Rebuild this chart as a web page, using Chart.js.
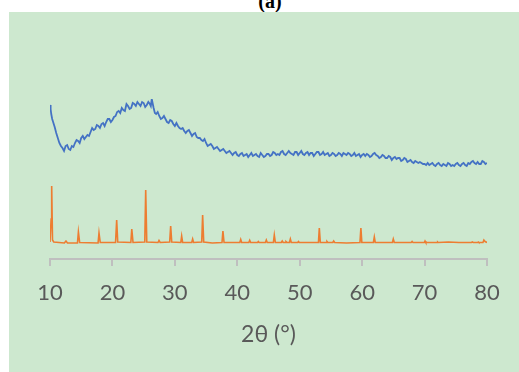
<!DOCTYPE html>
<html lang="en">

<head>
    <meta charset="UTF-8">
    <title>XRD (a)</title>
    <style>
        body { margin: 0; background: #ffffff; width: 519px; height: 372px; overflow: hidden; position: relative; }
        #label { position: absolute; left: 0; width: 540px; top: -9px; text-align: center;
                 font: bold 20px "Liberation Serif", serif; line-height: 20px; color: #000; }
        #box { position: absolute; left: 9px; top: 12px; width: 510px; height: 360px; background: #cde8cf; }
    </style>
</head>

<body>
    <div id="label">(a)</div>
    <div id="box">
        <canvas id="myChart" width="510" height="360"></canvas>
    </div>

    <script src="https://cdn.jsdelivr.net/npm/chart.js/dist/chart.umd.min.js"></script>
    <script>
        // amorphous sample (blue)
        const amorphousAngle = [
            10.0, 10.1, 10.2, 10.35, 10.5, 10.75, 11.0, 11.25, 11.5, 11.75,
            12.0, 12.25, 12.5, 12.75,  13.0, 13.25, 13.5, 13.75,  14.0, 14.25, 14.5, 14.75,
            15.0, 15.25, 15.5, 15.75,  16.0, 16.25, 16.5, 16.75,  17.0, 17.25, 17.5, 17.75,
            18.0, 18.25, 18.5, 18.75,  19.0, 19.25, 19.5, 19.75,  20.0, 20.25, 20.5, 20.75,
            21.0, 21.25, 21.5, 21.75,  22.0, 22.25, 22.5, 22.75,  23.0, 23.25, 23.5, 23.75,
            24.0, 24.25, 24.5, 24.75,  25.0, 25.25, 25.5, 25.75,  26.0, 26.15, 26.3, 26.6, 26.8,
            27.0, 27.25, 27.5, 27.75,  28.0, 28.25, 28.5, 28.75,  29.0, 29.25, 29.5, 29.75,
            30.0, 30.25, 30.5, 30.75,  31.0, 31.25, 31.5, 31.75,  32.0, 32.25, 32.5, 32.75,
            33.0, 33.25, 33.5, 33.75,  34.0, 34.25, 34.5, 34.75,  35.0, 35.25, 35.5, 35.75,
            36.0, 36.25, 36.5, 36.75,  37.0, 37.25, 37.5, 37.75,  38.0, 38.25, 38.5, 38.75,
            39.0, 39.25, 39.5, 39.75,  40.0, 40.25, 40.5, 40.75,  41.0, 41.25, 41.5, 41.75,
            42.0, 42.25, 42.5, 42.75,  43.0, 43.25, 43.5, 43.75,  44.0, 44.25, 44.5, 44.75,
            45.0, 45.25, 45.5, 45.75,  46.0, 46.25, 46.5, 46.75,  47.0, 47.25, 47.5, 47.75,
            48.0, 48.25, 48.5, 48.75,  49.0, 49.25, 49.5, 49.75,  50.0, 50.25, 50.5, 50.75,
            51.0, 51.25, 51.5, 51.75,  52.0, 52.25, 52.5, 52.75,  53.0, 53.25, 53.5, 53.75,
            54.0, 54.25, 54.5, 54.75,  55.0, 55.25, 55.5, 55.75,  56.0, 56.25, 56.5, 56.75,
            57.0, 57.25, 57.5, 57.75,  58.0, 58.25, 58.5, 58.75,  59.0, 59.25, 59.5, 59.75,
            60.0, 60.25, 60.5, 60.75,  61.0, 61.25, 61.5, 61.75,  62.0, 62.25, 62.5, 62.75,
            63.0, 63.25, 63.5, 63.75,  64.0, 64.25, 64.5, 64.75,  65.0, 65.25, 65.5, 65.75,
            66.0, 66.25, 66.5, 66.75,  67.0, 67.25, 67.5, 67.75,  68.0, 68.25, 68.5, 68.75,
            69.0, 69.25, 69.5, 69.75,  70.0, 70.25, 70.5, 70.75,  71.0, 71.25, 71.5, 71.75,
            72.0, 72.25, 72.5, 72.75,  73.0, 73.25, 73.5, 73.75,  74.0, 74.25, 74.5, 74.75,
            75.0, 75.25, 75.5, 75.75,  76.0, 76.25, 76.5, 76.75,  77.0, 77.25, 77.5, 77.75,
            78.0, 78.25, 78.5, 78.75,  79.0, 79.25, 79.5, 79.75,  80.0];
        const amorphousIntensity = [
            154, 150, 145, 140, 137, 132, 126, 121, 116, 113,
            111, 108, 113, 114,  110, 109, 113, 112,  116, 119, 118, 116,
            121, 123, 120, 122,  124, 123, 127, 131,  129, 130, 134, 133,
            131, 135, 136, 133,  137, 140, 140, 137,  139, 142, 143, 147,
            148, 146, 151, 149,  148, 155, 153, 150,  151, 156, 155, 153,
            157, 155, 153, 157,  156, 152, 154, 157,  155, 153, 160, 151, 146,
            145, 147, 143, 140,  141, 143, 140, 137,  136, 139, 138, 135,
            133, 136, 133, 131,  130, 131, 128, 126,  128, 129, 126, 123,
            125, 126, 122, 121,  121, 119, 118, 120,  116, 113, 114, 115,
            113, 110, 111, 112,  110, 108, 109, 110,  108, 106, 107, 108,
            106, 104, 106, 107,  104, 103, 105, 106,  103, 104, 105, 102,
            104, 106, 103, 104,  105, 103, 102, 106,  104, 102, 103, 105,
            105, 103, 104, 107,  106, 104, 105, 104,  107, 108, 105, 104,
            106, 108, 106, 105,  104, 107, 107, 104,  106, 108, 105, 104,
            106, 107, 104, 106,  106, 103, 105, 107,  107, 104, 105, 107,
            104, 105, 106, 103,  104, 106, 105, 103,  104, 106, 105, 103,
            106, 105, 104, 106,  105, 103, 104, 106,  103, 104, 105, 102,
            104, 105, 103, 105,  104, 102, 103, 105,  106, 104, 103, 101,
            102, 104, 103, 101,  101, 103, 102, 99,   101, 102, 100, 101,
            101, 98, 99, 101,    100, 97, 98, 99,     97, 96, 98, 97,
            96, 97, 96, 95,      95, 94, 96, 94,      95, 96, 94, 93,
            95, 96, 94, 93,      95, 94, 93, 96,      95, 93, 94, 93,
            95, 96, 94, 93,      95, 96, 94, 93,      96, 95, 97, 98,
            96, 95, 97, 95,      95, 98, 97, 95,      96];

        // crystalline sample (orange)
        const crystalAngle = [10.0, 10.18, 10.27, 10.4, 10.6, 12.3, 12.56, 12.8, 14.4, 14.55, 14.75,
            17.7, 17.85, 18.05, 20.5, 20.68, 20.85, 22.95, 23.1, 23.3, 25.18, 25.33, 25.5,
            27.3, 27.46, 27.65, 29.17, 29.33, 29.5, 30.95, 31.09, 31.25, 32.7, 32.85, 33.0,
            34.3, 34.45, 34.62, 36.0, 37.55, 37.7, 37.88, 40.4, 40.55, 40.7, 41.85, 41.99, 42.15,
            43.25, 43.37, 43.5, 44.5, 44.65, 44.8, 45.78, 45.93, 46.1, 47.05, 47.2, 47.35,
            47.65, 47.8, 48.0, 48.35, 48.5, 48.65, 49.7, 49.8, 49.95, 53.0, 53.14, 53.3,
            54.25, 54.37, 54.5, 55.3, 55.44, 55.6, 57.5, 59.65, 59.8, 59.95, 61.8, 61.95, 62.1,
            64.85, 64.99, 65.15, 67.85, 68.0, 68.15, 69.95, 70.07, 70.2, 72.0, 72.1, 72.2,
            73.8, 75.5, 77.5, 77.65, 77.8, 78.5, 78.6, 78.7, 79.35, 79.5, 79.7, 80.0];
        const crystalIntensity = [17, 40, 73, 19, 17, 16, 18, 16, 16, 27, 16.5,
            16, 26, 16.5, 16.5, 39, 17, 16.5, 30, 16.5, 17, 69, 17,
            16.5, 18.5, 16.5, 17, 33, 17, 16.5, 23, 16.5, 16.5, 20, 16.5,
            17, 44, 17, 16, 16.5, 28, 16.5, 16.5, 19.5, 16.5, 16.5, 18.7, 16.5,
            16.5, 17.5, 16.5, 16.5, 19, 16.5, 16.5, 24, 16.5, 16.5, 18, 16.5,
            16.5, 17.5, 16.5, 16.5, 20, 16.5, 16.5, 17.5, 16.5, 16.5, 31, 16.5,
            16.5, 17.5, 16.5, 16.5, 18, 16.5, 16, 16.5, 31, 16.5, 16.5, 22, 16.5,
            16.5, 20, 16.5, 16.5, 17.5, 16.5, 16.5, 18, 16.5, 16.5, 17, 16.5,
            17, 16.5, 16.5, 17, 16.5, 16.5, 17, 16.5, 16.5, 19, 17.5, 16.5];

        const xTicks = [10, 20, 30, 40, 50, 60, 70, 80];

        const toPoints = (xs, ys) => xs.map((x, i) => ({ x: x, y: ys[i] }));

        const config = {
            type: 'line',
            data: {
                datasets: [{
                    label: 'amorphous',
                    borderColor: '#4472c4',
                    borderWidth: 1.8,
                    data: toPoints(amorphousAngle, amorphousIntensity)
                },
                {
                    label: 'crystalline',
                    borderColor: '#ed7d31',
                    borderWidth: 1.6,
                    data: toPoints(crystalAngle, crystalIntensity)
                }]
            },
            options: {
                responsive: false,
                animation: false,
                devicePixelRatio: 1,
                elements: { point: { radius: 0 }, line: { tension: 0 } },
                layout: { padding: { left: 41, right: 32, top: 87, bottom: 0 } },
                plugins: {
                    legend: { display: false },
                    tooltip: { enabled: false }
                },
                scales: {
                    x: {
                        type: 'linear',
                        min: 10,
                        max: 80,
                        afterBuildTicks: s => { s.ticks = xTicks.map(v => ({ value: v })); },
                        afterFit: s => { s.height = 113; },
                        grid: { drawOnChartArea: false, drawTicks: true, tickLength: 7, color: '#bfbfbf', lineWidth: 2 },
                        border: { color: '#bfbfbf', width: 2 },
                        ticks: { color: '#595959', font: { family: 'Lato', size: 22 }, padding: 14, maxRotation: 0 },
                        title: {
                            display: true,
                            text: '2θ (°)',
                            color: '#595959',
                            font: { family: 'Lato', size: 23 },
                            padding: { top: 0, bottom: 24 }
                        }
                    },
                    y: {
                        display: false,
                        min: 0,
                        max: 160
                    }
                }
            }
        };

        new Chart(document.getElementById('myChart'), config);
    </script>
</body>

</html>
